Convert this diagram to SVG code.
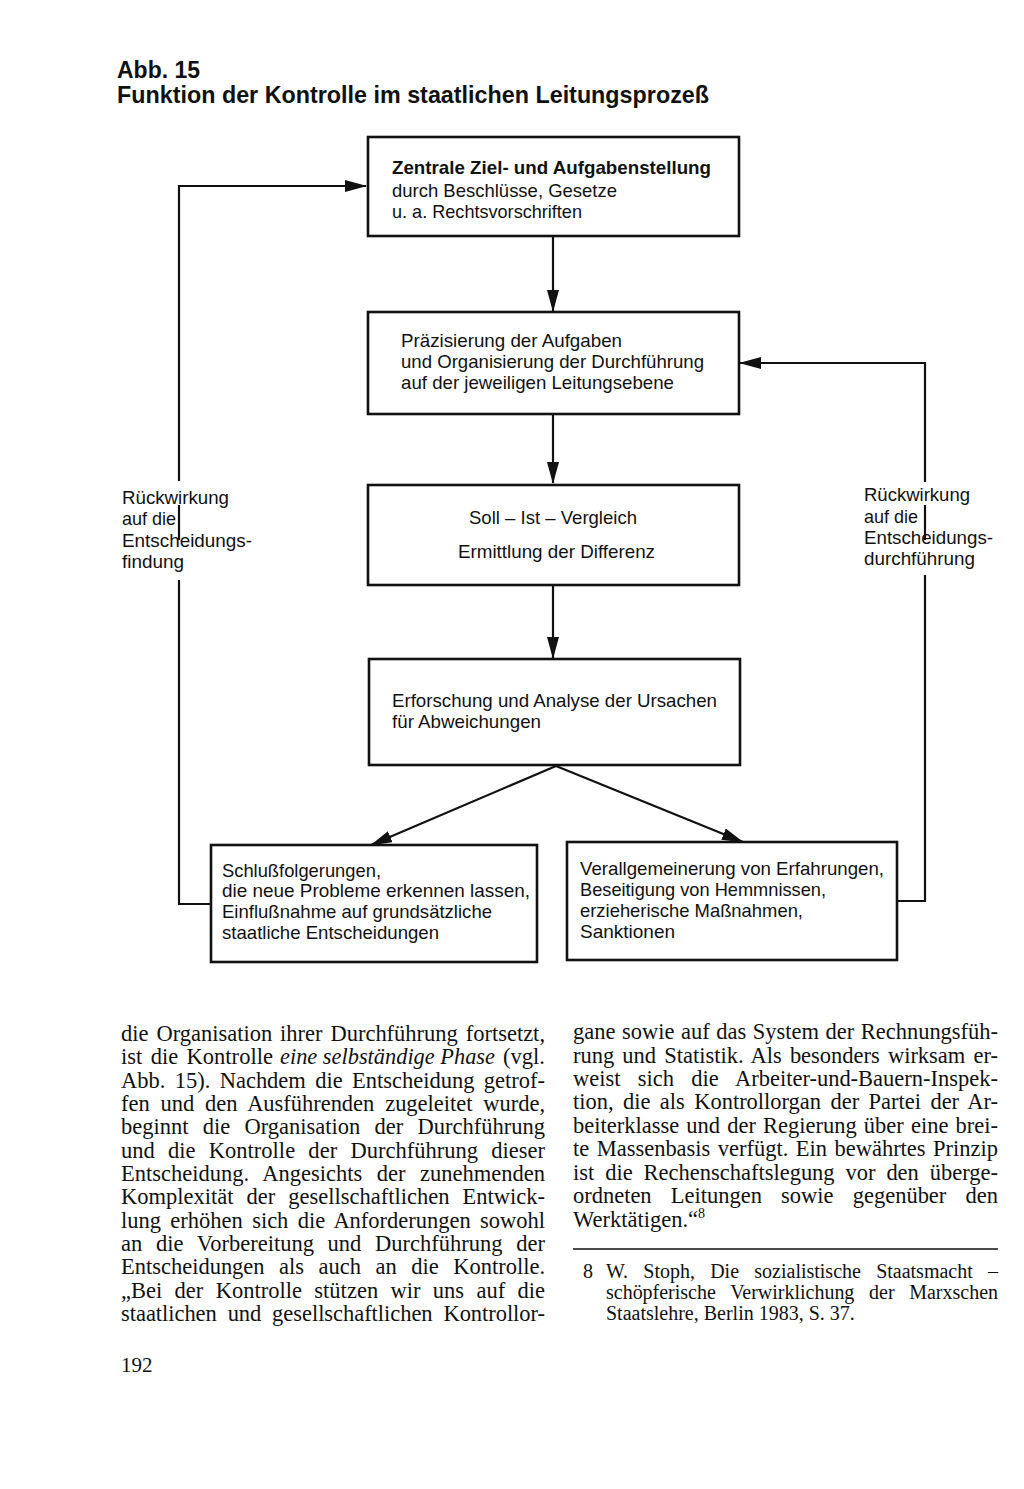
<svg xmlns="http://www.w3.org/2000/svg" width="1024" height="1489" viewBox="0 0 1024 1489">
<style>
.bg{fill:#ffffff}
.box{fill:none;stroke:#111;stroke-width:2.6}
.ln{fill:none;stroke:#111;stroke-width:2.2}
.t{font-family:"Liberation Sans",Arial,sans-serif;font-size:18.5px;fill:#111}
.tb{font-family:"Liberation Sans",Arial,sans-serif;font-size:18.5px;font-weight:bold;fill:#111}
.ttl{font-family:"Liberation Sans",Arial,sans-serif;font-size:24.5px;font-weight:bold;fill:#111}
.body{font-family:"Liberation Serif","Times New Roman",serif;font-size:22.5px;fill:#111}
.pg{font-family:"Liberation Serif","Times New Roman",serif;font-size:21px;fill:#111}
.it{font-style:italic}
.fn{font-family:"Liberation Serif","Times New Roman",serif;font-size:20px;fill:#111}
</style>
<defs>
<marker id="ah" viewBox="0 0 22 12" refX="21" refY="6" markerWidth="22" markerHeight="12" markerUnits="userSpaceOnUse" orient="auto">
<path d="M0,0 L22,6 L0,12 z" fill="#111"/>
</marker>
</defs>
<rect class="bg" x="0" y="0" width="1024" height="1489"/>

<g id="title">
<text class="ttl" x="117" y="78" textLength="83" lengthAdjust="spacingAndGlyphs">Abb. 15</text>
<text class="ttl" x="117" y="103" textLength="592" lengthAdjust="spacingAndGlyphs">Funktion der Kontrolle im staatlichen Leitungsprozeß</text>
</g>

<g id="connectors">
<line class="ln" x1="553" y1="236" x2="553" y2="311" marker-end="url(#ah)"/>
<line class="ln" x1="553" y1="414" x2="553" y2="483" marker-end="url(#ah)"/>
<line class="ln" x1="553" y1="585" x2="553" y2="658" marker-end="url(#ah)"/>
<line class="ln" x1="556" y1="766" x2="371" y2="845" marker-end="url(#ah)"/>
<line class="ln" x1="556" y1="766" x2="743" y2="842" marker-end="url(#ah)"/>
<polyline class="ln" points="211,904 179,904 179,580"/>
<line class="ln" x1="179" y1="540" x2="179" y2="505"/>
<polyline class="ln" points="179,481 179,186 366,186" marker-end="url(#ah)"/>
<polyline class="ln" points="897,901 925,901 925,575"/>
<line class="ln" x1="925" y1="540" x2="925" y2="505"/>
<polyline class="ln" points="925,482 925,363 740,363" marker-end="url(#ah)"/>
</g>

<g id="label-left">
<text class="t" x="122" y="504" textLength="107" lengthAdjust="spacingAndGlyphs">Rückwirkung</text>
<text class="t" x="122" y="525" textLength="54" lengthAdjust="spacingAndGlyphs">auf die</text>
<text class="t" x="122" y="547" textLength="130" lengthAdjust="spacingAndGlyphs">Entscheidungs-</text>
<text class="t" x="122" y="568" textLength="62" lengthAdjust="spacingAndGlyphs">findung</text>
</g>
<g id="label-right">
<text class="t" x="864" y="501" textLength="106" lengthAdjust="spacingAndGlyphs">Rückwirkung</text>
<text class="t" x="864" y="523" textLength="54" lengthAdjust="spacingAndGlyphs">auf die</text>
<text class="t" x="864" y="544" textLength="129" lengthAdjust="spacingAndGlyphs">Entscheidungs-</text>
<text class="t" x="864" y="565" textLength="111" lengthAdjust="spacingAndGlyphs">durchführung</text>
</g>

<g id="node-zentrale">
<rect class="box" x="368" y="137" width="371" height="99"/>
<text class="tb" x="392" y="174" textLength="319" lengthAdjust="spacingAndGlyphs">Zentrale Ziel- und Aufgabenstellung</text>
<text class="t" x="392" y="197" textLength="225" lengthAdjust="spacingAndGlyphs">durch Beschlüsse, Gesetze</text>
<text class="t" x="392" y="218" textLength="190" lengthAdjust="spacingAndGlyphs">u. a. Rechtsvorschriften</text>
</g>

<g id="node-praezisierung">
<rect class="box" x="368" y="312" width="371" height="102"/>
<text class="t" x="401" y="347" textLength="221" lengthAdjust="spacingAndGlyphs">Präzisierung der Aufgaben</text>
<text class="t" x="401" y="368" textLength="303" lengthAdjust="spacingAndGlyphs">und Organisierung der Durchführung</text>
<text class="t" x="401" y="389" textLength="273" lengthAdjust="spacingAndGlyphs">auf der jeweiligen Leitungsebene</text>
</g>

<g id="node-vergleich">
<rect class="box" x="368" y="485" width="371" height="100"/>
<text class="t" x="469" y="524" textLength="168" lengthAdjust="spacingAndGlyphs">Soll – Ist – Vergleich</text>
<text class="t" x="458" y="558" textLength="197" lengthAdjust="spacingAndGlyphs">Ermittlung der Differenz</text>
</g>

<g id="node-analyse">
<rect class="box" x="369" y="659" width="371" height="106"/>
<text class="t" x="392" y="707" textLength="325" lengthAdjust="spacingAndGlyphs">Erforschung und Analyse der Ursachen</text>
<text class="t" x="392" y="728" textLength="149" lengthAdjust="spacingAndGlyphs">für Abweichungen</text>
</g>

<g id="node-schluss">
<rect class="box" x="211" y="845" width="326" height="117"/>
<text class="t" x="222" y="877" textLength="159" lengthAdjust="spacingAndGlyphs">Schlußfolgerungen,</text>
<text class="t" x="222" y="897" textLength="308" lengthAdjust="spacingAndGlyphs">die neue Probleme erkennen lassen,</text>
<text class="t" x="222" y="918" textLength="270" lengthAdjust="spacingAndGlyphs">Einflußnahme auf grundsätzliche</text>
<text class="t" x="222" y="939" textLength="217" lengthAdjust="spacingAndGlyphs">staatliche Entscheidungen</text>
</g>

<g id="node-verallgemeinerung">
<rect class="box" x="567" y="842" width="330" height="118"/>
<text class="t" x="580" y="875" textLength="304" lengthAdjust="spacingAndGlyphs">Verallgemeinerung von Erfahrungen,</text>
<text class="t" x="580" y="896" textLength="246" lengthAdjust="spacingAndGlyphs">Beseitigung von Hemmnissen,</text>
<text class="t" x="580" y="917" textLength="223" lengthAdjust="spacingAndGlyphs">erzieherische Maßnahmen,</text>
<text class="t" x="580" y="938" textLength="95" lengthAdjust="spacingAndGlyphs">Sanktionen</text>
</g>

<g id="text-left">
<text class="body" x="121" y="1041" word-spacing="2.3" textLength="424">die Organisation ihrer Durchführung fortsetzt,</text>
<text class="body" x="121" y="1064" word-spacing="2.6" textLength="152">ist die Kontrolle</text>
<text class="body it" x="280" y="1064" textLength="215" lengthAdjust="spacingAndGlyphs">eine selbständige Phase</text>
<text class="body" x="503" y="1064" textLength="42" lengthAdjust="spacingAndGlyphs">(vgl.</text>
<text class="body" x="121" y="1088" word-spacing="3.8" textLength="424">Abb. 15). Nachdem die Entscheidung getrof-</text>
<text class="body" x="121" y="1111" word-spacing="5.3" textLength="424">fen und den Ausführenden zugeleitet wurde,</text>
<text class="body" x="121" y="1134" word-spacing="8.5" textLength="424">beginnt die Organisation der Durchführung</text>
<text class="body" x="121" y="1158" word-spacing="7.6" textLength="424">und die Kontrolle der Durchführung dieser</text>
<text class="body" x="121" y="1181" word-spacing="8.8" textLength="424">Entscheidung. Angesichts der zunehmenden</text>
<text class="body" x="121" y="1204" word-spacing="7.4" textLength="424">Komplexität der gesellschaftlichen Entwick-</text>
<text class="body" x="121" y="1228" word-spacing="3.8" textLength="424">lung erhöhen sich die Anforderungen sowohl</text>
<text class="body" x="121" y="1251" word-spacing="8.1" textLength="424">an die Vorbereitung und Durchführung der</text>
<text class="body" x="121" y="1274" word-spacing="8.9" textLength="424">Entscheidungen als auch an die Kontrolle.</text>
<text class="body" x="121" y="1298" word-spacing="6.7" textLength="424">„Bei der Kontrolle stützen wir uns auf die</text>
<text class="body" x="121" y="1321" word-spacing="5.3" textLength="424">staatlichen und gesellschaftlichen Kontrollor-</text>
</g>

<g id="text-right">
<text class="body" x="573" y="1039" word-spacing="1.0" textLength="425">gane sowie auf das System der Rechnungsfüh-</text>
<text class="body" x="573" y="1063" word-spacing="2.6" textLength="425">rung und Statistik. Als besonders wirksam er-</text>
<text class="body" x="573" y="1086" word-spacing="11.7" textLength="425">weist sich die Arbeiter-und-Bauern-Inspek-</text>
<text class="body" x="573" y="1109" word-spacing="3.8" textLength="425">tion, die als Kontrollorgan der Partei der Ar-</text>
<text class="body" x="573" y="1133" word-spacing="1.5" textLength="425">beiterklasse und der Regierung über eine brei-</text>
<text class="body" x="573" y="1156" word-spacing="1.9" textLength="425">te Massenbasis verfügt. Ein bewährtes Prinzip</text>
<text class="body" x="573" y="1180" word-spacing="5.3" textLength="425">ist die Rechenschaftslegung vor den überge-</text>
<text class="body" x="573" y="1203" word-spacing="13.6" textLength="425">ordneten Leitungen sowie gegenüber den</text>
<text class="body" x="573" y="1227">Werktätigen.“<tspan font-size="14" dy="-9">8</tspan></text>
<line x1="573" y1="1249" x2="998" y2="1249" stroke="#111" stroke-width="1.6"/>
<text class="fn" x="583" y="1278">8</text>
<text class="fn" x="606" y="1278" word-spacing="10.3" textLength="392">W. Stoph, Die sozialistische Staatsmacht –</text>
<text class="fn" x="606" y="1299" word-spacing="9.7" textLength="392">schöpferische Verwirklichung der Marxschen</text>
<text class="fn" x="606" y="1320">Staatslehre, Berlin 1983, S. 37.</text>
</g>

<g id="page-number">
<text class="pg" x="121" y="1372">192</text>
</g>
</svg>
